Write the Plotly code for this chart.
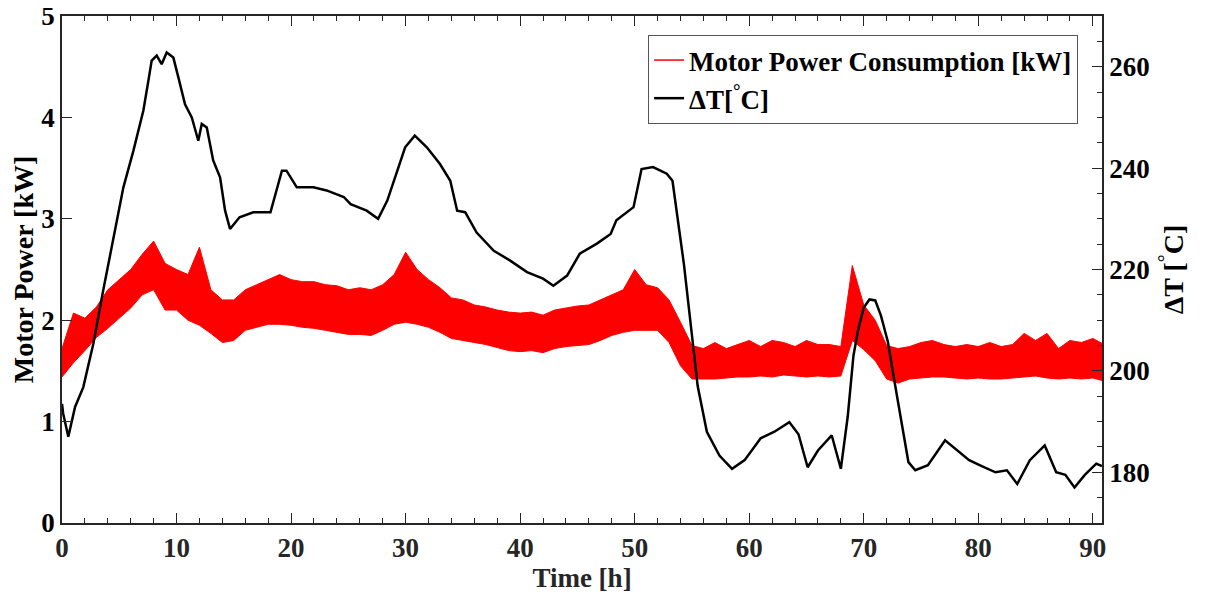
import plotly.graph_objects as go

# Delta T curve (right axis)
dt_time = [0, 0.1, 0.55, 1.14, 1.86, 2.74, 3.6, 4.48, 5.36, 6.23, 7.1, 7.54, 7.83, 8.27, 8.7,
           9.14, 9.72, 10.16, 10.74, 11.33, 11.9, 12.2, 12.64, 13.2, 13.8, 14.24, 14.67, 15.5,
           16.7, 18.2, 19.2, 19.6, 20.5, 21.95, 23.1, 24.6, 25.2, 26.6, 27.6, 28.4, 29.2,
           29.96, 30.8, 31.85, 33, 33.9, 34.5, 35.2, 36.2, 37.7, 39.1, 40.6, 42, 42.9, 44.1,
           45.2, 46.7, 47.9, 48.4, 49.9, 50.6, 51.6, 52.8, 53.3, 54.3, 55.5, 56.3, 57.4, 58.5,
           59.6, 61, 62.2, 63.5, 64.3, 65.1, 66, 67.2, 68, 68.6, 69.1, 69.5, 70, 70.5, 71,
           71.5, 72.1, 72.6, 73.2, 73.9, 74.5, 75.6, 77.1, 78, 79.2, 80.3, 81.5, 82.5, 83.4,
           84.5, 85.8, 86.8, 87.6, 88.4, 89.3, 90.3, 90.8]
dt_val = [193.5, 191.6, 187.0, 192.9, 196.8, 205.4, 215.9, 226.4, 236.2, 243.4, 251.3, 257.2,
          261.2, 262.2, 260.5, 262.8, 261.8, 257.9, 252.6, 250.0, 245.4, 248.7, 248.0, 241.5,
          238.2, 231.6, 228.0, 230.3, 231.3, 231.3, 239.5, 239.5, 236.2, 236.2, 235.6, 234.3,
          232.9, 231.6, 230.0, 233.6, 238.9, 244.1, 246.4, 244.1, 240.8, 237.5, 231.6, 231.3,
          227.3, 223.7, 221.8, 219.5, 218.2, 216.8, 218.8, 223.1, 225.1, 227.0, 229.7, 232.3,
          239.8, 240.2, 238.9, 237.5, 221.0, 197.0, 188.0, 183.3, 180.7, 182.4, 186.7, 188.0,
          189.9, 187.5, 181.0, 184.3, 187.3, 180.7, 191.0, 203.0, 208.0, 212.5, 214.1, 213.9,
          210.9, 205.8, 199.0, 191.2, 182.0, 180.4, 181.4, 186.3, 184.7, 182.4, 181.2, 180.0,
          180.4, 177.7, 182.4, 185.3, 180.0, 179.5, 177.0, 179.5, 181.7, 181.2]

# Motor power (left axis): lower and upper edge of the noisy band, hourly
pw_time = list(range(92))
pw_low = [1.44, 1.58, 1.70, 1.83, 1.92, 2.02, 2.12, 2.25, 2.30, 2.10, 2.10, 2.00, 1.95, 1.87,
          1.78, 1.80, 1.90, 1.93, 1.96, 1.96, 1.95, 1.93, 1.92, 1.90, 1.88, 1.86, 1.86, 1.85,
          1.90, 1.96, 1.98, 1.96, 1.93, 1.88, 1.82, 1.80, 1.78, 1.76, 1.73, 1.70, 1.69, 1.70,
          1.68, 1.72, 1.74, 1.75, 1.76, 1.80, 1.85, 1.88, 1.90, 1.90, 1.90, 1.78, 1.55, 1.42,
          1.42, 1.42, 1.43, 1.44, 1.44, 1.45, 1.44, 1.46, 1.45, 1.44, 1.45, 1.44, 1.45, 1.80,
          1.71, 1.60, 1.42, 1.38, 1.42, 1.43, 1.44, 1.44, 1.43, 1.42, 1.43, 1.42, 1.42, 1.43,
          1.44, 1.45, 1.43, 1.42, 1.43, 1.42, 1.43, 1.40]
pw_high = [1.72, 2.07, 2.02, 2.13, 2.30, 2.40, 2.50, 2.65, 2.78, 2.56, 2.50, 2.45, 2.72, 2.30,
           2.20, 2.20, 2.30, 2.35, 2.40, 2.45, 2.40, 2.38, 2.38, 2.35, 2.34, 2.30, 2.32, 2.30,
           2.35, 2.45, 2.67, 2.50, 2.40, 2.32, 2.22, 2.20, 2.15, 2.13, 2.10, 2.08, 2.07, 2.08,
           2.05, 2.10, 2.12, 2.14, 2.15, 2.20, 2.25, 2.30, 2.50, 2.35, 2.32, 2.20, 1.98, 1.75,
           1.72, 1.78, 1.72, 1.76, 1.80, 1.74, 1.80, 1.78, 1.74, 1.80, 1.76, 1.76, 1.74, 2.54,
           2.15, 2.00, 1.75, 1.72, 1.74, 1.78, 1.80, 1.76, 1.74, 1.76, 1.74, 1.78, 1.74, 1.76,
           1.87, 1.80, 1.87, 1.72, 1.80, 1.78, 1.82, 1.76]

FONT = "Liberation Serif"
INK = "#262626"

fig = go.Figure()
fig.add_scatter(x=pw_time, y=pw_low, mode="lines", line=dict(color="red", width=1),
                showlegend=False, hoverinfo="skip")
fig.add_scatter(x=pw_time, y=pw_high, mode="lines", line=dict(color="red", width=1),
                fill="tonexty", fillcolor="red", showlegend=False, hoverinfo="skip")
fig.add_scatter(x=dt_time, y=dt_val, mode="lines", line=dict(color="black", width=2.5),
                name="<b>ΔT[<sup>°</sup>C]</b>", yaxis="y2", legendrank=2)
# legend entry for the power band, as a plain red line
fig.add_scatter(x=[None], y=[None], mode="lines", line=dict(color="red", width=1.5),
                name="<b>Motor Power Consumption [kW]</b>", yaxis="y2", legendrank=1)

tick_font = dict(family=FONT, size=27, color="black", weight="bold")

# page body adds an 8px offset, so the figure is sized to fit inside it
fig.update_layout(
    width=1204, height=589,
    margin=dict(l=54, r=110, t=8, b=74),
    plot_bgcolor="white", paper_bgcolor="white",
    font=dict(family=FONT, size=27, color=INK),
    xaxis=dict(range=[0, 90.8], tickmode="array", tickvals=list(range(0, 91, 10)),
               ticks="inside", ticklen=10, tickcolor=INK, showline=True, linecolor=INK,
               linewidth=1.5, mirror="ticks", showgrid=False, zeroline=False,
               automargin=False, ticklabeloverflow="allow",
               minor=dict(dtick=2, ticks="inside", ticklen=5, tickcolor=INK),
               tickfont=dict(tick_font, color=INK),
               title=dict(text="<b>Time [h]</b>", standoff=0,
                          font=dict(family=FONT, size=27, color=INK))),
    yaxis=dict(range=[0, 5], dtick=1, ticks="inside", ticklen=10, tickcolor=INK,
               showline=True, linecolor=INK, linewidth=1.5, showgrid=False, zeroline=False,
               automargin=False, ticklabeloverflow="allow", tickfont=tick_font,
               title=dict(text="<b>Motor Power [kW]</b>",
                          font=dict(family=FONT, size=28, color="black"))),
    yaxis2=dict(range=[170, 270], tickvals=[180, 200, 220, 240, 260], overlaying="y",
                side="right", ticks="inside", ticklen=10, tickcolor=INK, showline=True,
                linecolor=INK, linewidth=1.5, showgrid=False, zeroline=False,
                automargin=False, ticklabeloverflow="allow",
                minor=dict(dtick=5, ticks="inside", ticklen=5, tickcolor=INK),
                tickfont=tick_font,
                title=dict(text="<b>ΔT [<sup>°</sup>C]</b>",
                           font=dict(family=FONT, size=28, color="black"))),
    legend=dict(x=0.977, y=0.9625, xanchor="right", yanchor="top", bgcolor="white",
                bordercolor="#555555", borderwidth=1, itemwidth=30, tracegroupgap=0,
                traceorder="normal",
                font=dict(family=FONT, size=27, color="black")),
)

fig.write_html("out.html")
